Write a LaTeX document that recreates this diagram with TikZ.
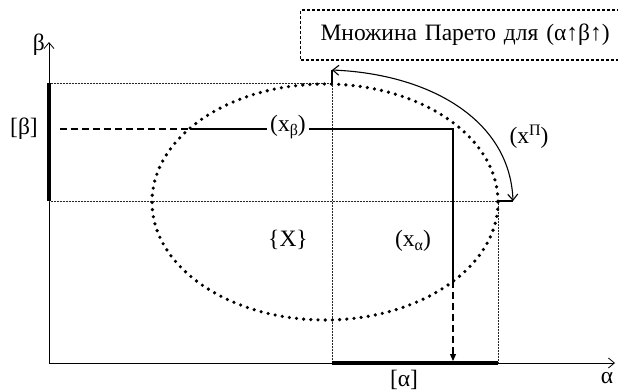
\documentclass[tikz,border=0pt]{standalone}
\usepackage{fontspec}
\setmainfont{Liberation Serif}
\usetikzlibrary{arrows.meta}
\begin{document}
\begin{tikzpicture}[x=1pt,y=-1pt,
  lbl/.style={inner sep=1pt,font=\fontsize{23.5}{27}\selectfont},
  grid/.style={line width=0.7pt,dash pattern=on 0.6pt off 0.9pt,black!85},
  bigdots/.style={line width=3.6pt,line cap=round,dash pattern=on 0pt off 7.2pt},
  thickbar/.style={line width=3.2pt},
  axis/.style={line width=0.8pt,-{Straight Barb[length=6pt,width=10pt]}},
  thinline/.style={line width=1.1pt}]
\newcommand\mysub[1]{\raisebox{-0.35ex}{\fontsize{16}{18}\selectfont #1}}
\newcommand\mysup[1]{\raisebox{0.75ex}{\fontsize{16}{18}\selectfont #1}}
\useasboundingbox (0,0) rectangle (618,391);
% axes
\coordinate (O) at (49,363);
\coordinate (Ytop) at (49,42);
\coordinate (Xend) at (615,363);
\draw[axis] (O) -- (Ytop);
\draw[axis] (O) -- (Xend);
\node[lbl,anchor=east] (beta) at (46,45) {β};
\node[lbl] (alpha) at (607,378) {α};
% key coordinates
\coordinate (B1) at (49,83);
\coordinate (B2) at (49,201);
\coordinate (A1) at (332,363);
\coordinate (A2) at (498,363);
\coordinate (T) at (332,83);
\coordinate (R) at (498,201);
\coordinate (Tup) at (332,70);
\coordinate (Rend) at (513,201);
% grid dotted lines
\draw[grid] (B1) -- (T);
\draw[grid] (B2) -- (R);
\draw[grid] (T) -- (A1);
\draw[grid] (R) -- (A2);
% thick bars
\draw[thickbar] (B1) -- (B2);
\draw[thickbar] (A1) -- (A2);
\node[lbl] (lbeta) at (24,129) {[β]};
\node[lbl] (lalpha) at (404,380) {[α]};
% ellipse
\draw[bigdots] (325,202) ellipse [x radius=173, y radius=118];
% x_beta / x_alpha lines
\coordinate (Dstart) at (60,129);
\coordinate (E1) at (190,129);
\coordinate (C) at (453,129);
\coordinate (E2) at (453,281);
\coordinate (Darrow) at (453,361);
\draw[thinline,dash pattern=on 7pt off 4pt] (Dstart) -- (E1);
\draw[thinline] (E1) -- (C) -- (E2);
\draw[thinline,dash pattern=on 7pt off 4pt,-{Triangle[length=7pt,width=6pt]}] (E2) -- (Darrow);
\node[lbl,fill=white,inner sep=3pt] (xb) at (288,127) {(x\mysub{β})};
\node[lbl] (xa) at (413,241) {(x\mysub{α})};
\node[lbl] (X) at (288,240) {\{X\}};
\node[lbl] (xp) at (529,137) {(x\mysup{П})};
% Pareto arrow
\draw[thinline] (T) -- (Tup);
\draw[thinline] (R) -- (Rend);
\draw[thinline,{Straight Barb[length=6pt,width=10pt]}-{Straight Barb[length=6pt,width=10pt]}] (Tup) .. controls (430,74) and (510,120) .. (Rend);
% title box
\node[lbl,draw,line width=1.1pt,dash pattern=on 3pt off 2pt,minimum height=50pt,text width=322pt,align=left,anchor=west,inner xsep=20pt] (title) at (300,35) {Множина Парето для (α↑β↑)};
\end{tikzpicture}
\end{document}
